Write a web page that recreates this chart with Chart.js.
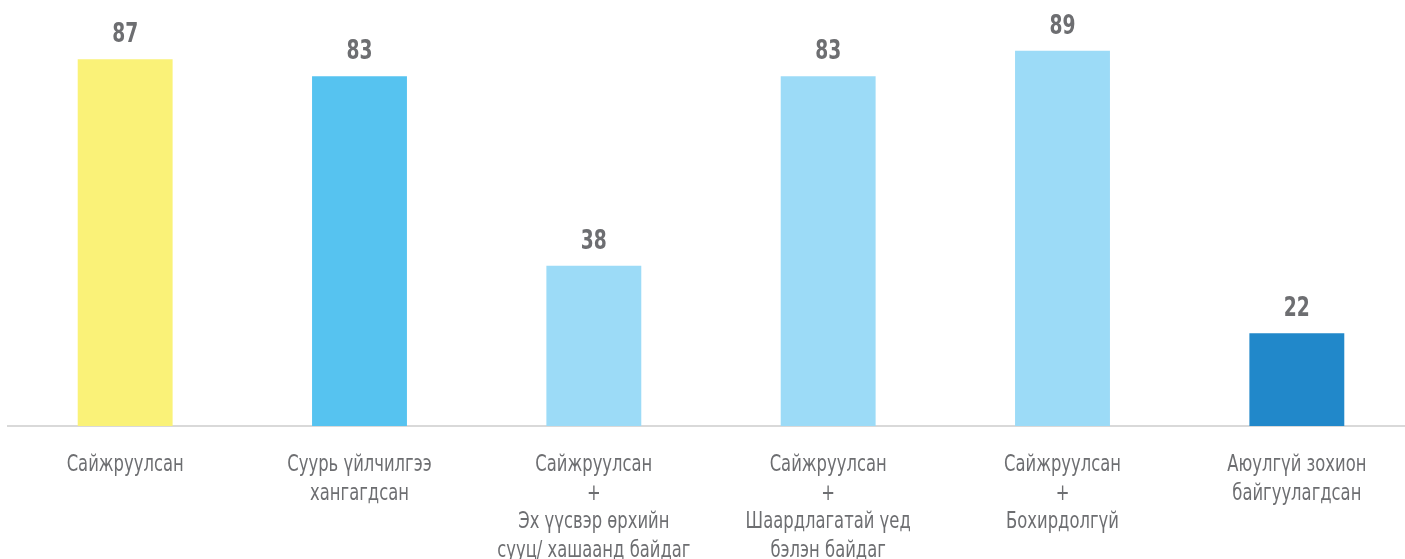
<!DOCTYPE html>
<html>
<head>
<meta charset="utf-8">
<script src="https://cdn.jsdelivr.net/npm/chart.js@4"></script>
<style>
  html, body { margin: 0; padding: 0; background: #fff; overflow: hidden; }
  #wrap { width: 1414px; height: 559px; }
</style>
</head>
<body>
<div id="wrap"><canvas id="bar-chart"></canvas></div>
<script>
// categories (multi-line labels)
var categories = [
    ["Сайжруулсан"],
    ["Суурь үйлчилгээ", "хангагдсан"],
    ["Сайжруулсан", "+", "Эх үүсвэр өрхийн", "сууц/ хашаанд байдаг"],
    ["Сайжруулсан", "+", "Шаардлагатай үед", "бэлэн байдаг"],
    ["Сайжруулсан", "+", "Бохирдолгүй"],
    ["Аюулгүй зохион", "байгуулагдсан"]
];
var values = [87, 83, 38, 83, 89, 22];
var barColors = ["#FAF278", "#56C3F0", "#9CDBF7", "#9CDBF7", "#9CDBF7", "#2188CA"];

var textColor = "#6d6e71";
var fontName = "'Liberation Sans Narrow', 'DejaVu Sans Condensed', 'DejaVu Sans', sans-serif";

// the reference uses a condensed face, so squeeze the text horizontally
function squeezedText(ctx, text, x, y, f){
    ctx.save();
    ctx.translate(x, y);
    ctx.scale(f, 1);
    ctx.fillText(text, 0, 0);
    ctx.restore();
}

var labelsPlugin = {
    id: 'labelsPlugin',
    afterDatasetsDraw: function(chart){
        var ctx = chart.ctx;
        var meta = chart.getDatasetMeta(0);
        var xs = chart.scales.x;
        var bottom = chart.chartArea.bottom;
        ctx.save();
        ctx.fillStyle = textColor;
        ctx.textAlign = "center";
        ctx.textBaseline = "alphabetic";

        // numbers above bars
        ctx.font = "bold 26px " + fontName;
        var fv = 26 / ctx.measureText("87").width;
        meta.data.forEach(function(bar, i){
            squeezedText(ctx, String(values[i]), bar.x, bar.y - 17, fv);
        });

        // category labels under the axis
        ctx.font = "23px " + fontName;
        var fc = 117 / ctx.measureText("Сайжруулсан").width;
        categories.forEach(function(lines, i){
            var x = xs.getPixelForValue(i);
            lines.forEach(function(line, k){
                squeezedText(ctx, line, x, bottom + 45 + k * 28.5, fc);
            });
        });
        ctx.restore();
    }
};

var ctx = document.getElementById("bar-chart");
var chart = new Chart(ctx, {
    type: "bar",
    data: {
        labels: categories,
        datasets: [{
            data: values,
            backgroundColor: barColors,
            borderWidth: 0,
            categoryPercentage: 1,
            barPercentage: 0.405
        }]
    },
    options: {
        responsive: true,
        maintainAspectRatio: false,
        animation: false,
        layout: { padding: { left: 8, right: 0, top: 4.5, bottom: 133 } },
        plugins: {
            legend: { display: false },
            tooltip: { enabled: false }
        },
        scales: {
            x: {
                grid: { display: false, drawTicks: false },
                border: { display: true, color: "#d9d9d9", width: 2 },
                ticks: { display: false }
            },
            y: {
                display: false,
                min: 0,
                max: 100
            }
        }
    },
    plugins: [labelsPlugin]
});
</script>
</body>
</html>
